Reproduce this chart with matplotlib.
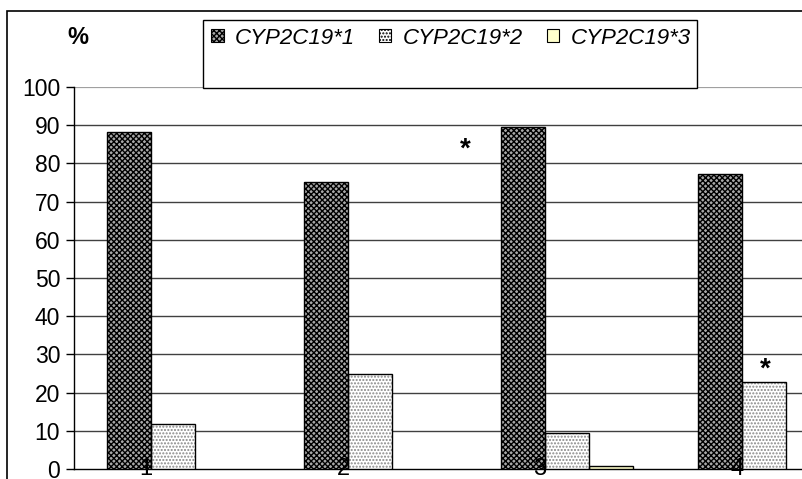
import matplotlib
matplotlib.use("Agg")
import matplotlib.pyplot as plt
from matplotlib.patches import Rectangle, Patch
import numpy as np

plt.rcParams['font.family'] = ['Liberation Sans', 'DejaVu Sans']
plt.rcParams['hatch.linewidth'] = 1.0

categories = ['1', '2', '3', '4']
series_names = ['CYP2C19*1', 'CYP2C19*2', 'CYP2C19*3']
cyp1 = [88.3, 75.2, 89.6, 77.3]
cyp2 = [11.7, 24.8, 9.3, 22.7]
cyp3 = [0.0, 0.0, 0.9, 0.0]
y_ticks = [0, 10, 20, 30, 40, 50, 60, 70, 80, 90, 100]
star_points = [(1.985, 83.5), (3.51, 26.0)]

fig = plt.figure(figsize=(8.02, 4.79), dpi=100)
ax = fig.add_axes([74/802, 1 - 469/479, 1 - 74/802, (469 - 87)/479])

w = 44/197
x0 = (107 - 74)/197
idx = np.arange(len(categories))
styles = [
    dict(facecolor='#a8a8a8', hatch='xxxxxx', edgecolor='black'),
    dict(facecolor='white', hatch='.....', edgecolor='#888888'),
    dict(facecolor='#ffffcc', hatch=None, edgecolor='black'),
]
data = [cyp1, cyp2, cyp3]
for k, (vals, st) in enumerate(zip(data, styles)):
    for i, v in enumerate(vals):
        if v <= 0:
            continue
        xl = x0 + idx[i] + k*w
        ax.bar(xl, v, width=w, align='edge', facecolor=st['facecolor'],
               hatch=st['hatch'], edgecolor=st['edgecolor'], linewidth=0, zorder=3)
        ax.bar(xl, v, width=w, align='edge', facecolor='none',
               edgecolor='black', linewidth=1.0, zorder=4)

ax.set_xlim(0, 728/197)
ax.set_ylim(0, 100)
ax.set_yticks(y_ticks)
ax.set_yticklabels([str(t) for t in y_ticks], fontsize=16.5)
ax.tick_params(axis='y', direction='out', length=6, width=1, pad=4)
ax.set_xticks([])
for t in y_ticks[1:]:
    if t == 100:
        ax.axhline(t, color='#a0a0a0', lw=1.6, zorder=1)
    else:
        ax.axhline(t, color='#404040', lw=1.0, zorder=1)
for s in ['top', 'right']:
    ax.spines[s].set_visible(False)
ax.spines['left'].set_linewidth(1.0)
ax.spines['bottom'].set_linewidth(1.0)

for i, c in enumerate(categories):
    ax.text(x0 + idx[i] + 39/197, 0, c, ha='center', va='center', fontsize=17,
            zorder=6, clip_on=False)

for (sx, sy) in star_points:
    ax.text(sx, sy, '*', ha='center', va='center', fontsize=20, fontweight='bold', zorder=6)

# percent label
fig.text(78/802, 1 - 38/479, '%', ha='center', va='center', fontsize=17, fontweight='bold')

# legend box
lx0, ly0, lx1, ly1 = 203, 20, 697, 88
fig.patches.append(Rectangle((lx0/802, 1 - ly1/479), (lx1 - lx0)/802, (ly1 - ly0)/479,
                             transform=fig.transFigure, facecolor='white',
                             edgecolor='black', linewidth=1.0, zorder=10))
handles = [Patch(facecolor=st['facecolor'], hatch=st['hatch'], edgecolor='black', linewidth=0.8)
           for st in styles]
leg = fig.legend(handles, series_names, loc='center', bbox_to_anchor=(451/802, 1 - 38/479),
                 ncol=3, frameon=False, prop=dict(size=16, style='italic'),
                 handlelength=0.55, handleheight=0.55, handletextpad=0.5, columnspacing=1.1,
                 borderpad=0, borderaxespad=0)
leg.set_zorder(11)

# figure border
fig.patches.append(Rectangle((7/802, -0.01), 1.0, 1 - 11/479 + 0.01, transform=fig.transFigure,
                             facecolor='none', edgecolor='black', linewidth=1.2, zorder=0))

fig.savefig('out.png', dpi=100)
